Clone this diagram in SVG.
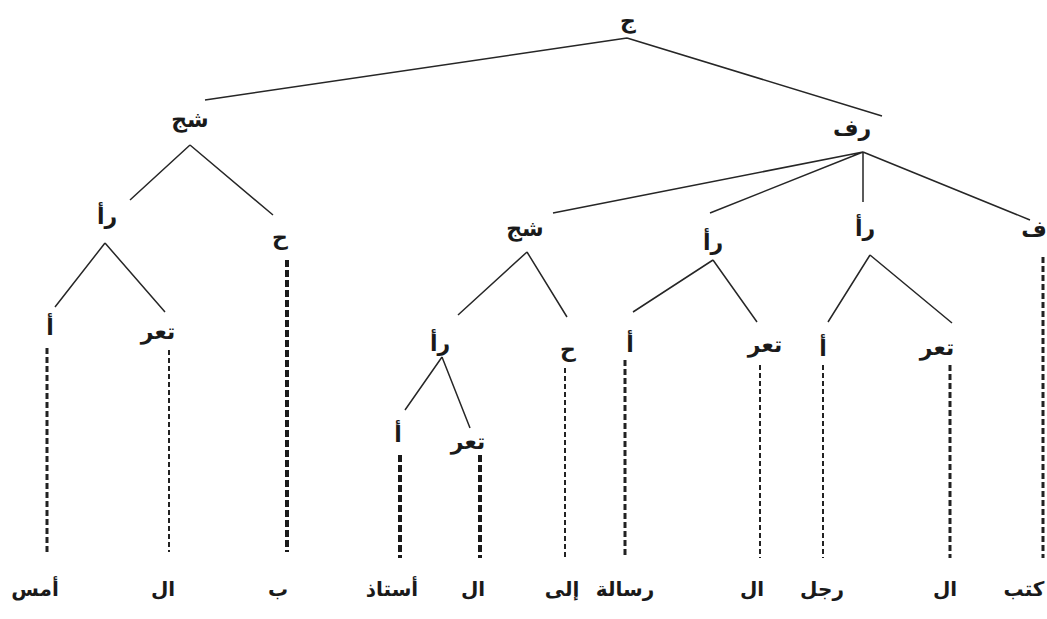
<svg xmlns="http://www.w3.org/2000/svg" width="1047" height="619" viewBox="0 0 1047 619">
<style>
text{font-family:"DejaVu Sans",sans-serif;font-weight:bold;fill:#1a1a1a;text-anchor:middle}
.lbl{font-size:22px}
.word{font-size:20px}
.edge{stroke:#262626;stroke-width:1.5;fill:none}
.thin{stroke:#222;stroke-width:2;stroke-dasharray:5 3;fill:none}
.med{stroke:#222;stroke-width:3;stroke-dasharray:6 3;fill:none}
.thick{stroke:#1a1a1a;stroke-width:4;stroke-dasharray:7 3;fill:none}
</style>
<rect width="1047" height="619" fill="#ffffff"/>
<g id="connectors">
<path class="edge" d="M627 38 L205 100 M627 38 L882 116"/>
<path class="edge" d="M190 145 L130 200 M190 145 L273 215"/>
<path class="edge" d="M105 243 L55 307 M105 243 L165 312"/>
<path class="edge" d="M863 152 L553 213 M863 152 L710 213 M863 152 L863 202 M863 152 L1030 220"/>
<path class="edge" d="M527 252 L458 315 M527 252 L567 317"/>
<path class="edge" d="M713 260 L633 312 M713 260 L757 322"/>
<path class="edge" d="M870 255 L828 322 M870 255 L952 323"/>
<path class="edge" d="M442 357 L405 410 M442 357 L470 428"/>
<line class="med" x1="47" y1="348" x2="47" y2="552"/>
<line class="thin" x1="169" y1="350" x2="169" y2="552"/>
<line class="thick" x1="287" y1="260" x2="287" y2="552"/>
<line class="thick" x1="400" y1="455" x2="400" y2="558"/>
<line class="thick" x1="480" y1="455" x2="480" y2="558"/>
<line class="thin" x1="565" y1="368" x2="565" y2="558"/>
<line class="med" x1="625" y1="360" x2="625" y2="558"/>
<line class="thin" x1="760" y1="365" x2="760" y2="558"/>
<line class="thin" x1="823" y1="365" x2="823" y2="558"/>
<line class="med" x1="950" y1="365" x2="950" y2="558"/>
<line class="med" x1="1043" y1="257" x2="1043" y2="558"/>
</g>
<g id="n-root"><text class="lbl" x="628" y="28">ج</text></g>
<g id="n-shj1"><text class="lbl" x="190" y="127">شج</text></g>
<g id="n-rf"><text class="lbl" x="852" y="136">رف</text></g>
<g id="n-ra1"><text class="lbl" x="107" y="224">رأ</text></g>
<g id="n-h1"><text class="lbl" x="280" y="245">ح</text></g>
<g id="n-a1"><text class="lbl" x="50" y="335">أ</text></g>
<g id="n-tar1"><text class="lbl" x="158" y="339">تعر</text></g>
<g id="n-shj2"><text class="lbl" x="525" y="236">شج</text></g>
<g id="n-ra2"><text class="lbl" x="440" y="351">رأ</text></g>
<g id="n-a2"><text class="lbl" x="398" y="442">أ</text></g>
<g id="n-tar2"><text class="lbl" x="468" y="449">تعر</text></g>
<g id="n-h2"><text class="lbl" x="568" y="357">ح</text></g>
<g id="n-ra3"><text class="lbl" x="713" y="250">رأ</text></g>
<g id="n-a3"><text class="lbl" x="630" y="352">أ</text></g>
<g id="n-tar3"><text class="lbl" x="765" y="352">تعر</text></g>
<g id="n-ra4"><text class="lbl" x="865" y="236">رأ</text></g>
<g id="n-a4"><text class="lbl" x="823" y="356">أ</text></g>
<g id="n-tar4"><text class="lbl" x="937" y="355">تعر</text></g>
<g id="n-f"><text class="lbl" x="1034" y="237">ف</text></g>
<g id="w1"><text class="word" x="35" y="596">أمس</text></g>
<g id="w2"><text class="word" x="163" y="596">ال</text></g>
<g id="w3"><text class="word" x="278" y="596">ب</text></g>
<g id="w4"><text class="word" x="392" y="596">أستاذ</text></g>
<g id="w5"><text class="word" x="473" y="596">ال</text></g>
<g id="w6"><text class="word" x="562" y="596">إلى</text></g>
<g id="w7"><text class="word" x="625" y="596">رسالة</text></g>
<g id="w8"><text class="word" x="752" y="596">ال</text></g>
<g id="w9"><text class="word" x="822" y="596">رجل</text></g>
<g id="w10"><text class="word" x="945" y="596">ال</text></g>
<g id="w11"><text class="word" x="1024" y="596">كتب</text></g>
</svg>
